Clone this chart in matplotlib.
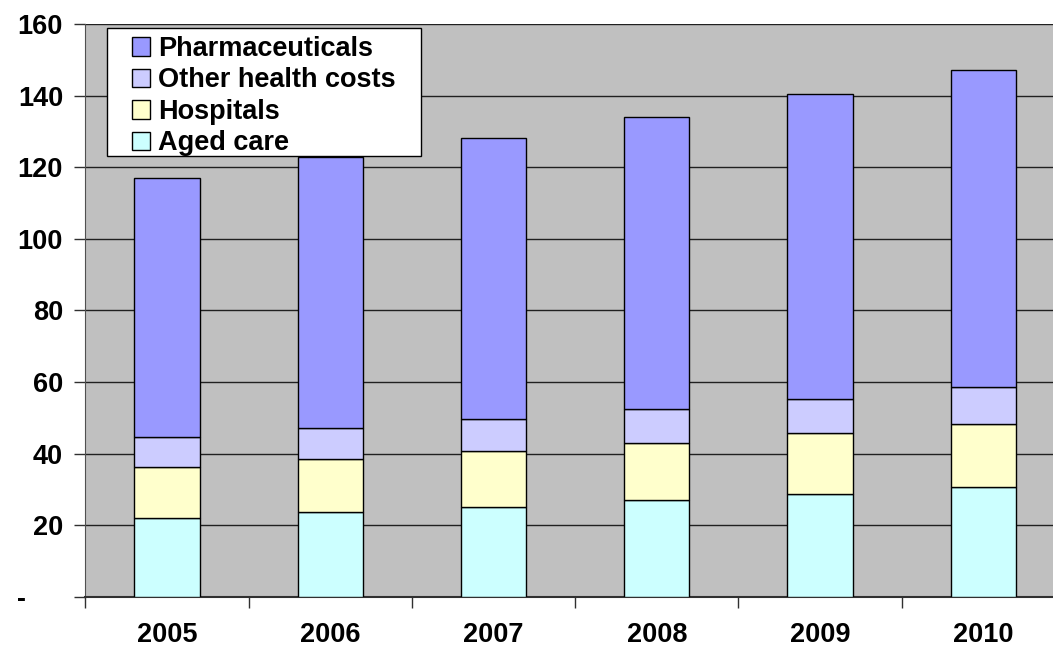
import matplotlib
matplotlib.use("Agg")
import matplotlib.pyplot as plt
from matplotlib.patches import Patch, Rectangle
import numpy as np

plt.rcParams['font.family'] = ['Liberation Sans', 'DejaVu Sans']
plt.rcParams['font.weight'] = 'bold'

years = ["2005", "2006", "2007", "2008", "2009", "2010"]
aged_care = [21.9, 23.6, 25.1, 26.9, 28.7, 30.6]
hospitals = [14.4, 14.8, 15.6, 16.1, 17.0, 17.7]
other_health = [8.2, 8.7, 8.9, 9.5, 9.6, 10.3]
pharmaceuticals = [72.5, 75.6, 78.6, 81.5, 85.2, 88.6]

series = [
    ("Aged care", aged_care, "#CCFFFF"),
    ("Hospitals", hospitals, "#FFFFCC"),
    ("Other health costs", other_health, "#CCCCFF"),
    ("Pharmaceuticals", pharmaceuticals, "#9999FF"),
]

y_ticks = [0, 20, 40, 60, 80, 100, 120, 140, 160]
y_labels = ["-     ", "20", "40", "60", "80", "100", "120", "140", "160"]

fig = plt.figure(figsize=(10.53, 6.48), dpi=100)
ax = fig.add_axes([0.081, 0.0792, 0.9304, 0.8838])
ax.set_facecolor("#C0C0C0")

x = np.arange(len(years))
bottom = np.zeros(len(years))
for name, vals, col in series:
    ax.bar(x, vals, width=0.4, bottom=bottom, color=col, edgecolor="black",
           linewidth=1.0, zorder=3, label=name)
    bottom += np.array(vals)

ax.set_xlim(-0.5, len(years) - 0.5)
ax.set_ylim(0, 160)
ax.set_yticks(y_ticks)
ax.set_yticklabels(y_labels)
ax.yaxis.grid(True, color="#202020", linewidth=1.0, zorder=1)
ax.set_axisbelow(True)

# category labels centred under bars, ticks on the category boundaries
ax.set_xticks(x)
ax.set_xticklabels(years)
ax.set_xticks(np.arange(-0.5, len(years) + 0.5, 1.0), minor=True)
ax.tick_params(axis="x", which="major", length=0, pad=18, labelsize=19.5)
ax.tick_params(axis="x", which="minor", length=8, width=1.0, color="#303030",
               direction="out")
ax.tick_params(axis="y", length=8, width=1.0, color="#303030", pad=8,
               labelsize=19.5, direction="out")

for s in ["top", "right"]:
    ax.spines[s].set_visible(False)
ax.spines["left"].set_color("#505050")
ax.spines["bottom"].set_color("#303030")
ax.spines["bottom"].set_linewidth(1.5)

# legend: white boxed panel in the upper-left corner
box = Rectangle((0.0222, 0.7695), 0.3205, 0.2235, transform=ax.transAxes,
                facecolor="white", edgecolor="black", linewidth=1.0,
                zorder=4)
ax.add_patch(box)

handles = [Patch(facecolor=col, edgecolor="black", linewidth=1.0, label=name)
           for name, _, col in reversed(series)]
leg = ax.legend(handles=handles, loc="upper left",
                bbox_to_anchor=(0.0477, 0.979), borderaxespad=0.0,
                frameon=False, borderpad=0.0,
                prop={"size": 19.5, "weight": "bold"},
                handlelength=0.667, handleheight=0.667, handletextpad=0.3,
                labelspacing=0.2)
leg.set_zorder(5)

fig.savefig("out.png", dpi=100)
